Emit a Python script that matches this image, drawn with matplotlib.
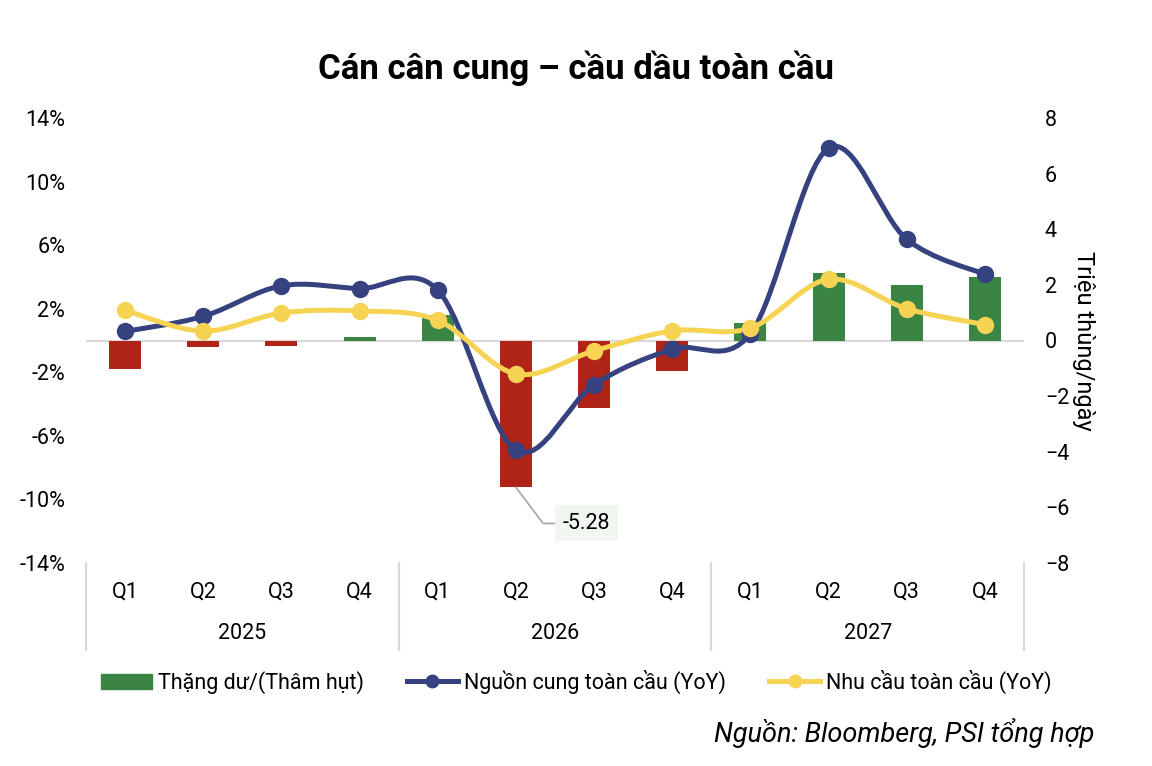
import numpy as np
import matplotlib

matplotlib.use("Agg")
import matplotlib.pyplot as plt
from matplotlib.path import Path
from matplotlib.patches import PathPatch, Patch
from matplotlib.lines import Line2D
import matplotlib.transforms as mtransforms

plt.rcParams['font.family'] = ['Roboto', 'DejaVu Sans']

quarters = ['Q1', 'Q2', 'Q3', 'Q4'] * 3
years = ['2025', '2026', '2027']

# thang du / (tham hut), trieu thung/ngay (right axis)
balance = [-1.04, -0.25, -0.18, 0.14, 0.90, -5.28, -2.42, -1.08, 0.63, 2.44, 1.98, 2.27]
# % YoY (left axis)
supply = [0.57, 1.52, 3.44, 3.27, 3.17, -6.9, -2.78, -0.54, 0.43, 12.1, 6.37, 4.16]
demand = [1.90, 0.59, 1.73, 1.86, 1.27, -2.1, -0.65, 0.61, 0.78, 3.85, 2.0, 1.0]

GREEN = '#3A8544'
RED = '#B02418'
NAVY = '#36417F'
YELLOW = '#F7D354'
SEP = '#D9D9D9'
FS = 15.5


def smooth_path(xs, ys):
    # excel-style smoothed line: cubic bezier through the points
    pts = np.column_stack([xs, ys]).astype(float)
    n = len(pts)
    verts = [pts[0]]
    codes = [Path.MOVETO]
    for i in range(n - 1):
        p0 = pts[max(i - 1, 0)]
        p1 = pts[i]
        p2 = pts[i + 1]
        p3 = pts[min(i + 2, n - 1)]
        verts += [p1 + (p2 - p0) / 6, p2 - (p3 - p1) / 6, p2]
        codes += [Path.CURVE4] * 3
    return Path(verts, codes)


fig = plt.figure(figsize=(11.52, 7.66), dpi=100)
ax1 = fig.add_axes([86 / 1152, 1 - 563 / 766, (1024 - 86) / 1152, 445 / 766])
ax2 = ax1.twinx()
ax1.set_zorder(ax2.get_zorder() + 1)
ax1.patch.set_visible(False)

x = np.arange(len(quarters))

# bars on right axis
colors = [GREEN if v > 0 else RED for v in balance]
ax2.axhline(0, color=SEP, lw=1.6, zorder=1)
ax2.bar(x, balance, width=0.41, color=colors, zorder=2)
ax2.set_ylim(-8, 8)
ax2.set_yticks(np.arange(-8, 9, 2))

# data label for the big deficit
i_min = int(np.argmin(balance))
ax2.annotate(f'{balance[i_min]:.2f}', xy=(x[i_min], balance[i_min]),
             xytext=(51, -26), textcoords='offset points',
             fontsize=FS, ha='center', va='center',
             bbox=dict(boxstyle='square,pad=0.35', fc='#F1F6F1', ec='none'),
             arrowprops=dict(arrowstyle='-', color='#A6A6A6', lw=1.2,
                             shrinkA=0, shrinkB=0,
                             connectionstyle='angle,angleA=0,angleB=-53,rad=0'))

# smoothed lines on left axis
for ys, col in [(supply, NAVY), (demand, YELLOW)]:
    ax1.add_patch(PathPatch(smooth_path(x, ys), fc='none', ec=col, lw=3.6,
                            capstyle='round', joinstyle='round', zorder=3))
    ax1.plot(x, ys, 'o', color=col, ms=11.5, zorder=4)

ax1.set_xlim(-0.5, len(quarters) - 0.5)
ax1.set_ylim(-14, 14)
ax1.set_yticks(np.arange(-14, 15, 4))
ax1.set_yticklabels([f'{v}%' for v in range(-14, 15, 4)])

for a in (ax1, ax2):
    for s in a.spines.values():
        s.set_visible(False)
    a.tick_params(length=0, labelsize=FS, colors='black')
ax1.tick_params(axis='y', pad=15)
ax2.tick_params(axis='y', pad=15)

ax1.set_xticks(x)
ax1.set_xticklabels(quarters)
ax1.tick_params(axis='x', pad=13)

# category groups (years) below the quarter labels
trans = mtransforms.blended_transform_factory(ax1.transData, ax1.transAxes)
for k, yr in enumerate(years):
    ax1.text(4 * k + 1.5, -0.158, yr, transform=trans, ha='center', va='center', fontsize=FS)
for b in range(len(years) + 1):
    ax1.add_line(Line2D([4 * b - 0.5] * 2, [0, -0.196], transform=trans,
                        color=SEP, lw=1.6, clip_on=False))

ax2.set_ylabel('Triệu thùng/ngày', rotation=-90, fontsize=17, va='center')
ax2.yaxis.set_label_coords(1.063, 0.5)

fig.text(0.5, 1 - 68 / 766, 'Cán cân cung – cầu dầu toàn cầu', ha='center', va='center',
         fontsize=25, fontweight='bold')

handles = [
    Patch(color=GREEN),
    Line2D([], [], color=NAVY, lw=3.6, marker='o', ms=9),
    Line2D([], [], color=YELLOW, lw=3.6, marker='o', ms=9),
]
labels = ['Thặng dư/(Thâm hụt)', 'Nguồn cung toàn cầu (YoY)', 'Nhu cầu toàn cầu (YoY)']
fig.legend(handles, labels, loc='center', bbox_to_anchor=(0.5, 1 - 682 / 766), ncol=3,
           frameon=False, handlelength=2.4, handletextpad=0.25,
           columnspacing=2.0, prop={'size': 15.5})

fig.text(1094 / 1152, 1 - 733 / 766, 'Nguồn: Bloomberg, PSI tổng hợp', ha='right', va='center',
         fontsize=19.5, style='italic')

fig.savefig('out.png', dpi=100)
